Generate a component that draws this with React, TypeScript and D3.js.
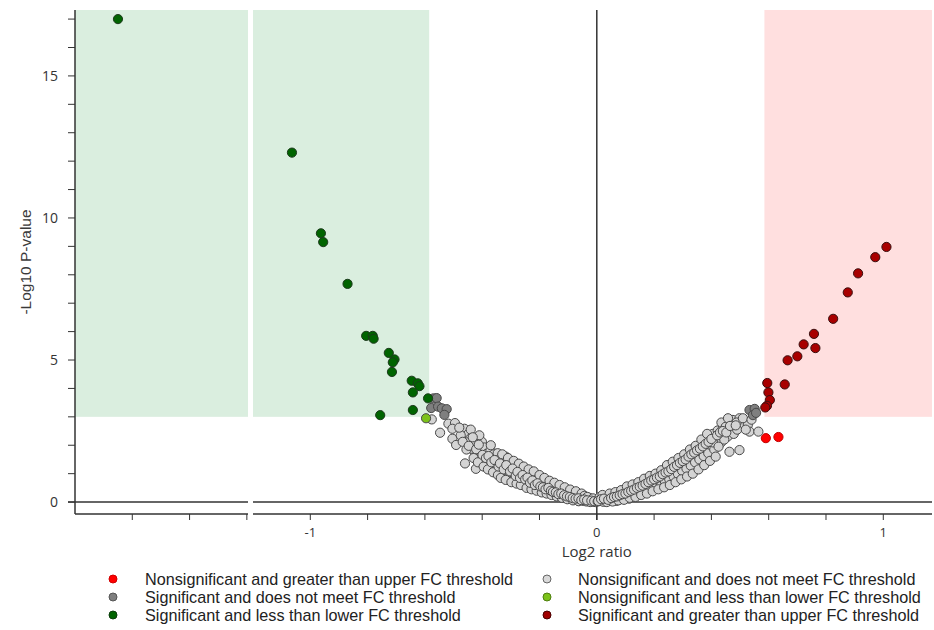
import React from "react";
import * as d3 from "d3";

// ---- data: [log2 ratio, -log10 p] ----
const sigDown: [number, number][] = [
  [-2.65, 17.0], [-1.064, 12.3], [-0.963, 9.46], [-0.955, 9.15], [-0.87, 7.68],
  [-0.805, 5.85], [-0.782, 5.85], [-0.779, 5.75], [-0.726, 5.25], [-0.706, 5.02],
  [-0.712, 4.92], [-0.715, 4.58], [-0.646, 4.27], [-0.625, 4.18], [-0.619, 4.08],
  [-0.642, 3.86], [-0.589, 3.65], [-0.642, 3.24], [-0.756, 3.06],
];
const sigUp: [number, number][] = [
  [1.011, 8.98], [0.972, 8.62], [0.912, 8.05], [0.876, 7.38], [0.825, 6.45],
  [0.758, 5.92], [0.722, 5.55], [0.763, 5.42], [0.7, 5.13], [0.666, 4.99],
  [0.595, 4.19], [0.656, 4.14], [0.599, 3.86], [0.604, 3.59], [0.594, 3.39], [0.588, 3.33],
];
const nsUp: [number, number][] = [[0.59, 2.25], [0.634, 2.29]];
const nsDown: [number, number][] = [[-0.596, 2.95]];
const sigNoFC: [number, number][] = [
  [-0.57, 3.65], [-0.559, 3.66], [-0.578, 3.31], [-0.554, 3.36], [-0.541, 3.3],
  [-0.524, 3.27], [-0.532, 3.07],
  [0.533, 3.24], [0.551, 3.28], [0.545, 3.06], [0.556, 3.14],
];
const nsNoFC: [number, number][] = [
  [-0.576, 2.91], [-0.518, 2.76], [-0.495, 2.78], [-0.504, 2.58], [-0.547, 2.44], [-0.462, 2.58],
  [-0.504, 2.23], [-0.491, 2.01], [-0.46, 1.36], [-0.422, 1.17], [-0.448, 2.4], [-0.443, 2.22],
  [-0.414, 2.25], [-0.436, 2.02], [-0.408, 1.95], [-0.425, 1.72], [-0.39, 1.78], [-0.384, 1.49],
  [-0.355, 1.6], [-0.344, 1.42], [-0.321, 1.48], [-0.297, 1.4],
  [-0.452, 2.1], [-0.438, 1.88], [-0.427, 2.05], [-0.418, 1.62], [-0.405, 1.8], [-0.401, 2.12],
  [-0.397, 1.58], [-0.392, 1.92], [-0.384, 1.7], [-0.376, 1.35], [-0.371, 1.82], [-0.366, 1.52],
  [-0.36, 1.68], [-0.352, 1.3], [-0.349, 1.45],
  [-0.346, 1.72], [-0.34, 1.18], [-0.336, 1.55], [-0.331, 1.34], [-0.327, 1.02], [-0.322, 1.25],
  [-0.318, 1.6], [-0.314, 1.12], [-0.309, 1.38], [-0.305, 0.9], [-0.301, 1.2],
  [-0.296, 1.05], [-0.292, 1.3], [-0.288, 0.82], [-0.284, 1.15], [-0.279, 0.96], [-0.275, 1.22],
  [-0.27, 0.75], [-0.266, 1.02], [-0.262, 0.88], [-0.257, 1.1], [-0.252, 0.7],
  [-0.248, 0.92], [-0.244, 0.62], [-0.24, 1.02], [-0.235, 0.78], [-0.231, 0.55], [-0.227, 0.86],
  [-0.222, 0.68], [-0.218, 0.95], [-0.213, 0.5], [-0.209, 0.74], [-0.204, 0.6],
  [-0.199, 0.82], [-0.195, 0.45], [-0.19, 0.66], [-0.186, 0.38], [-0.181, 0.56], [-0.176, 0.72],
  [-0.171, 0.42], [-0.166, 0.58], [-0.161, 0.33], [-0.156, 0.5],
  [-0.151, 0.62], [-0.146, 0.27], [-0.141, 0.44], [-0.136, 0.35], [-0.131, 0.52], [-0.126, 0.22],
  [-0.121, 0.38], [-0.116, 0.3], [-0.111, 0.16], [-0.106, 0.45],
  [-0.101, 0.26], [-0.096, 0.12], [-0.091, 0.34], [-0.086, 0.2], [-0.081, 0.08], [-0.076, 0.28],
  [-0.071, 0.15], [-0.066, 0.05], [-0.061, 0.22], [-0.056, 0.11],
  [-0.051, 0.17], [-0.046, 0.04], [-0.041, 0.12], [-0.036, 0.02], [-0.031, 0.09], [-0.026, 0.15],
  [-0.021, 0.03], [-0.016, 0.07], [-0.011, 0.01], [-0.006, 0.05], [-0.002, 0.1],
  [-0.43, 1.55], [-0.415, 1.4], [-0.395, 1.25], [-0.38, 1.15], [-0.37, 2.0], [-0.362, 1.05],
  [-0.345, 0.95], [-0.335, 0.85], [-0.33, 1.68], [-0.318, 0.78], [-0.31, 1.55], [-0.298, 0.7],
  [-0.29, 1.45], [-0.28, 0.65], [-0.272, 1.35], [-0.265, 0.6], [-0.255, 1.25], [-0.245, 0.5],
  [-0.238, 1.15], [-0.228, 0.45], [-0.22, 1.08], [-0.21, 0.4], [-0.2, 0.95], [-0.192, 0.34],
  [-0.183, 0.85], [-0.175, 0.3], [-0.165, 0.75], [-0.158, 0.25], [-0.148, 0.68], [-0.14, 0.2],
  [-0.13, 0.6], [-0.122, 0.15], [-0.112, 0.52], [-0.103, 0.1], [-0.093, 0.44], [-0.083, 0.06],
  [-0.073, 0.38], [-0.063, 0.03], [-0.053, 0.3], [-0.043, 0.22], [-0.033, 0.18], [-0.023, 0.0],
  [-0.013, 0.13], [-0.004, 0.0], [-0.475, 2.35], [-0.468, 2.12], [-0.48, 2.62], [-0.455, 1.85],
  [-0.44, 2.55], [-0.41, 2.35],
  [-0.447, 1.98], [-0.433, 2.28], [-0.421, 1.86], [-0.412, 2.02], [-0.399, 1.66], [-0.387, 1.55],
  [-0.378, 1.62], [-0.368, 1.4], [-0.357, 1.48], [-0.343, 1.25], [-0.338, 1.36], [-0.325, 1.15],
  [-0.316, 1.3], [-0.303, 1.08], [-0.294, 1.18], [-0.283, 0.92], [-0.277, 1.06], [-0.268, 0.85],
  [-0.259, 0.95], [-0.25, 0.8], [-0.242, 0.86], [-0.233, 0.68], [-0.225, 0.76], [-0.216, 0.6],
  [-0.207, 0.66], [-0.197, 0.55], [-0.188, 0.52], [-0.179, 0.45], [-0.169, 0.5], [-0.16, 0.4],
  [-0.153, 0.36], [-0.143, 0.34], [-0.134, 0.28], [-0.124, 0.3], [-0.114, 0.24], [-0.104, 0.2],
  [-0.094, 0.18], [-0.084, 0.14], [-0.074, 0.12], [-0.064, 0.13], [-0.054, 0.07], [-0.044, 0.09],
  [-0.034, 0.06], [-0.019, 0.05], [-0.009, 0.03],
  [0.003, 0.02], [0.008, 0.08], [0.013, 0.04], [0.018, 0.13], [0.023, 0.01], [0.028, 0.07],
  [0.033, 0.16], [0.038, 0.05], [0.043, 0.11], [0.048, 0.2],
  [0.053, 0.09], [0.058, 0.25], [0.063, 0.14], [0.068, 0.04], [0.073, 0.3], [0.078, 0.18],
  [0.083, 0.1], [0.088, 0.36], [0.093, 0.22], [0.098, 0.14],
  [0.103, 0.42], [0.108, 0.27], [0.113, 0.12], [0.118, 0.5], [0.123, 0.33], [0.128, 0.2],
  [0.133, 0.58], [0.138, 0.38], [0.143, 0.26], [0.148, 0.46],
  [0.153, 0.66], [0.158, 0.32], [0.163, 0.52], [0.168, 0.74], [0.173, 0.4], [0.178, 0.6],
  [0.183, 0.84], [0.188, 0.48], [0.193, 0.7], [0.198, 0.56],
  [0.203, 0.92], [0.208, 0.64], [0.213, 0.78], [0.218, 1.02], [0.223, 0.56], [0.228, 0.86],
  [0.233, 1.12], [0.238, 0.72], [0.243, 0.95], [0.248, 1.2],
  [0.253, 0.8], [0.258, 1.05], [0.263, 1.3], [0.268, 0.9], [0.273, 1.16], [0.278, 1.4],
  [0.283, 1.0], [0.288, 1.26], [0.293, 1.52], [0.298, 1.1],
  [0.303, 1.36], [0.308, 1.62], [0.313, 1.18], [0.318, 1.46], [0.323, 1.74], [0.328, 1.28],
  [0.333, 1.56], [0.338, 1.88], [0.343, 1.4], [0.348, 1.66],
  [0.353, 1.95], [0.358, 1.5], [0.363, 1.78], [0.368, 2.05], [0.373, 1.62], [0.378, 1.9],
  [0.384, 2.18], [0.389, 1.72], [0.394, 2.3], [0.399, 2.0],
  [0.405, 2.4], [0.41, 1.85], [0.416, 2.15], [0.422, 2.52], [0.428, 2.28], [0.434, 2.1],
  [0.44, 2.62], [0.446, 2.4],
  [0.463, 1.77], [0.498, 1.83], [0.475, 2.89], [0.498, 2.95], [0.516, 2.85], [0.481, 2.65],
  [0.504, 2.65], [0.527, 2.71], [0.533, 2.48], [0.564, 2.48], [0.455, 2.55], [0.462, 2.78],
  [0.47, 2.45], [0.456, 2.3],
  [0.01, 0.18], [0.02, 0.25], [0.035, 0.0], [0.045, 0.3], [0.055, 0.02], [0.065, 0.35],
  [0.075, 0.06], [0.085, 0.42], [0.095, 0.08], [0.105, 0.55], [0.115, 0.15], [0.125, 0.62],
  [0.135, 0.18], [0.145, 0.7], [0.155, 0.25], [0.165, 0.82], [0.175, 0.3], [0.185, 0.92],
  [0.195, 0.38], [0.205, 1.0], [0.215, 0.45], [0.225, 1.12], [0.235, 0.52], [0.245, 1.3],
  [0.255, 0.6], [0.265, 1.42], [0.275, 0.7], [0.285, 1.55], [0.295, 0.8], [0.305, 1.68],
  [0.315, 0.9], [0.325, 1.85], [0.335, 1.0], [0.345, 1.98], [0.355, 1.15], [0.365, 2.2],
  [0.375, 1.3], [0.385, 2.4], [0.395, 1.45], [0.405, 2.1], [0.415, 1.6], [0.425, 1.95],
  [0.435, 2.8], [0.445, 2.2], [0.45, 2.65], [0.458, 2.95], [0.468, 2.6], [0.478, 2.4],
  [0.488, 2.8], [0.49, 2.55], [0.51, 2.95], [0.52, 2.55], [0.54, 2.9],
  [0.005, 0.04], [0.015, 0.1], [0.025, 0.12], [0.04, 0.08], [0.05, 0.14], [0.06, 0.18],
  [0.07, 0.2], [0.08, 0.24], [0.09, 0.28], [0.1, 0.3], [0.11, 0.36], [0.12, 0.4],
  [0.13, 0.44], [0.14, 0.5], [0.15, 0.54], [0.16, 0.58], [0.17, 0.64], [0.18, 0.7],
  [0.19, 0.76], [0.2, 0.8], [0.21, 0.86], [0.22, 0.9], [0.23, 0.98], [0.24, 1.04],
  [0.25, 1.08], [0.26, 1.16], [0.27, 1.24], [0.28, 1.3], [0.29, 1.38], [0.3, 1.44],
  [0.31, 1.5], [0.32, 1.6], [0.33, 1.68], [0.34, 1.74], [0.35, 1.82], [0.36, 1.88],
  [0.37, 1.96], [0.38, 2.05], [0.39, 2.12], [0.4, 2.22], [0.42, 2.35], [0.43, 2.45],
  [0.44, 2.5], [0.452, 2.45], [0.465, 2.68], [0.485, 2.7],
];

const yTicks = d3.range(0, 18);
const yLabels = [0, 5, 10, 15];
const xTicksRight = [-1, -0.8, -0.6, -0.4, -0.2, 0, 0.2, 0.4, 0.6, 0.8, 1];
const xTicksLeft = [-2.6, -2.4, -2.2];
const xLabels = [-1, 0, 1];
const fcThreshold = 0.585;
const pThreshold = 3;

const legendItems = [
  { label: "Nonsignificant and greater than upper FC threshold", fill: "#ff0000", stroke: "#d00000" },
  { label: "Significant and does not meet FC threshold", fill: "#7f7f7f", stroke: "#555" },
  { label: "Significant and less than lower FC threshold", fill: "#006400", stroke: "#0b3d0b" },
  { label: "Nonsignificant and does not meet FC threshold", fill: "#d9d9d9", stroke: "#666" },
  { label: "Nonsignificant and less than lower FC threshold", fill: "#7cc21a", stroke: "#4f7f10" },
  { label: "Significant and greater than upper FC threshold", fill: "#a00000", stroke: "#4a0000" },
];

export default function App() {
  const W = 934, H = 630;
  const top = 10, bottom = 514, leftAx = 75, breakL = 248, breakR = 253, right = 932;
  const y = d3.scaleLinear().domain([-0.42, 17.32]).range([bottom, top]);
  const xR = d3.scaleLinear().domain([-1.2, 1.17]).range([breakR, right]);
  const xL = d3.scaleLinear().domain([-2.8, -2.196]).range([leftAx, breakL]);
  const xp = (v: number) => (v < -1.2 ? xL(v) : xR(v));
  const axisCol = "#333";
  const font = "'Liberation Sans', Arial, sans-serif";

  const pts = (data: [number, number][], fill: string, stroke: string) =>
    data.map((d, i) => (
      <circle key={i} cx={xp(d[0])} cy={y(d[1])} r={4.6} fill={fill} stroke={stroke} strokeWidth={1} />
    ));

  return (
    <svg width={W} height={H} style={{ position: "absolute", left: 0, top: 0, background: "#fff" }}>
      {/* threshold regions */}
      <rect x={leftAx} y={top} width={breakL - leftAx} height={y(pThreshold) - top} fill="#daeedf" />
      <rect x={breakR} y={top} width={xR(-fcThreshold) - breakR} height={y(pThreshold) - top} fill="#daeedf" />
      <rect x={xR(fcThreshold)} y={top} width={right - xR(fcThreshold)} height={y(pThreshold) - top} fill="#ffdfdf" />

      {/* y axis */}
      <line x1={leftAx} x2={leftAx} y1={top} y2={bottom} stroke={axisCol} strokeWidth={1.5} />
      {yTicks.map((t) => (
        <line key={t} x1={leftAx - 7} x2={leftAx} y1={y(t)} y2={y(t)} stroke={axisCol} strokeWidth={1} />
      ))}
      {yLabels.map((t) => (
        <text key={t} x={leftAx - 17} y={y(t)} dy="0.36em" textAnchor="end" fontFamily="'Open Sans', sans-serif" fontSize={14} fill="#333">
          {t}
        </text>
      ))}
      <text transform={`translate(31,262) rotate(-90)`} textAnchor="middle" fontFamily={font} fontSize={15.5} fill="#3a3a3a">
        -Log10 P-value
      </text>

      {/* zero line and bottom axis */}
      <line x1={leftAx - 7} x2={breakL} y1={y(0)} y2={y(0)} stroke={axisCol} strokeWidth={1.5} />
      <line x1={breakR} x2={right} y1={y(0)} y2={y(0)} stroke={axisCol} strokeWidth={1.5} />
      <line x1={leftAx} x2={breakL} y1={bottom} y2={bottom} stroke={axisCol} strokeWidth={1.5} />
      <line x1={breakR} x2={right} y1={bottom} y2={bottom} stroke={axisCol} strokeWidth={1.5} />
      {xTicksLeft.map((t) => (
        <line key={t} x1={xL(t)} x2={xL(t)} y1={bottom} y2={bottom + 6} stroke={axisCol} strokeWidth={1} />
      ))}
      {xTicksRight.map((t) => (
        <line key={t} x1={xR(t)} x2={xR(t)} y1={bottom} y2={bottom + 6} stroke={axisCol} strokeWidth={1} />
      ))}
      {xLabels.map((t) => (
        <text key={t} x={xR(t)} y={bottom + 23} textAnchor="middle" fontFamily="'Open Sans', sans-serif" fontSize={13} fill="#333">
          {t === -1 ? "-1" : t}
        </text>
      ))}
      <text x={xR(0)} y={bottom + 43} textAnchor="middle" fontFamily="'Liberation Sans Narrow', 'Open Sans', sans-serif" fontSize={15} fill="#333">
        Log2 ratio
      </text>

      {/* vertical zero line */}
      <line x1={xR(0)} x2={xR(0)} y1={top} y2={bottom + 6} stroke={axisCol} strokeWidth={1.5} />

      {/* points */}
      <g>{pts(nsNoFC, "#d4d4d4", "#484848")}</g>
      <g>{pts(sigNoFC, "#7f7f7f", "#484848")}</g>
      <g>{pts(nsDown, "#7cc21a", "#4a4a4a")}</g>
      <g>{pts(nsUp, "#ff0000", "#c00000")}</g>
      <g>{pts(sigDown, "#006400", "#1c3a1c")}</g>
      <g>{pts(sigUp, "#a80000", "#3a1010")}</g>

      {/* legend */}
      {legendItems.map((d, i) => {
        const col = Math.floor(i / 3);
        const row = i % 3;
        const mx = col === 0 ? 113 : 547;
        const tx = col === 0 ? 145 : 578;
        const cy = 579 + row * 18;
        return (
          <g key={i}>
            <circle cx={mx} cy={cy} r={4} fill={d.fill} stroke={d.stroke} strokeWidth={1} />
            <text x={tx} y={cy} dy="0.36em" fontFamily={font} fontSize={16.2} fill="#222">
              {d.label}
            </text>
          </g>
        );
      })}
    </svg>
  );
}
